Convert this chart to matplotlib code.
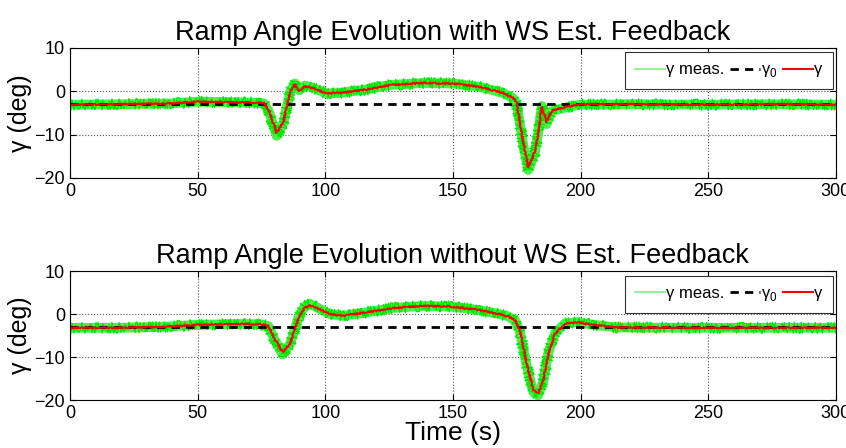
import numpy as np
import matplotlib.pyplot as plt
from matplotlib.lines import Line2D

plt.rcParams['font.family'] = ['Liberation Sans', 'DejaVu Sans']
plt.rcParams['mathtext.fontset'] = 'custom'
plt.rcParams['mathtext.rm'] = 'Liberation Sans'

# with WS estimate feedback (top)
t_top = [0, 20, 40, 50, 60, 70, 76, 78, 81, 83.6, 86.2, 88.1, 89.8, 92, 94.7,
         100.5, 105.7, 116, 125, 138, 150, 160.6, 169.7, 173.6, 175, 177.6,
         179.5, 182.1, 183.4, 184.8, 186.7, 188.7, 194.5, 200, 220, 250, 280, 300]
gam_top = [-3.1, -3.0, -2.8, -2.4, -2.5, -2.6, -2.7, -4.5, -9.6, -7.1, -0.2, 1.6,
           0.1, 1.15, 0.85, -0.5, -0.4, 0.4, 1.4, 1.9, 1.8, 1.0, -0.4, -1.5, -2.8,
           -12.0, -17.6, -14.0, -9.8, -3.6, -7.1, -4.5, -3.6, -3.0, -3.0, -3.1, -3.0, -3.1]
meas_top = [-3.1, -3.0, -2.8, -2.4, -2.5, -2.6, -2.8, -4.8, -10.3, -7.4, -0.1, 1.8,
            0.2, 1.3, 0.9, -0.5, -0.4, 0.4, 1.4, 1.9, 1.8, 1.0, -0.4, -1.6, -3.0,
            -12.5, -18.2, -14.3, -9.6, -3.4, -7.6, -4.6, -3.7, -3.1, -3.0, -3.1, -3.0, -3.1]

# without WS estimate feedback (bottom)
t_bot = [0, 20, 35, 50, 66.6, 75, 77.7, 80, 83.3, 86.2, 89.6, 92, 94, 97.9, 101.8,
         107, 116.2, 126.6, 138.4, 150, 160.6, 171.1, 174.3, 176.3, 178.9, 181.5,
         183.4, 185.4, 187.4, 190, 193.9, 198.5, 205, 214, 240, 270, 300]
gam_bot = [-3.2, -3.2, -3.0, -2.5, -2.3, -2.4, -2.7, -5.5, -8.9, -6.9, -0.8, 1.5,
           2.1, 1.15, 0.0, -0.4, 0.4, 1.4, 1.9, 1.7, 0.9, -0.4, -1.4, -3.9, -11.5,
           -17.7, -18.5, -15.4, -9.2, -4.6, -2.3, -1.9, -2.5, -3.1, -3.2, -3.2, -3.2]
meas_bot = [-3.2, -3.2, -3.0, -2.5, -2.3, -2.4, -2.8, -5.8, -9.4, -7.0, -0.6, 1.8,
            2.4, 1.2, 0.0, -0.4, 0.4, 1.4, 1.9, 1.7, 0.9, -0.4, -1.5, -4.2, -12.0,
            -18.2, -18.9, -15.6, -9.0, -4.4, -2.2, -1.9, -2.5, -3.1, -3.2, -3.2, -3.2]

gamma0 = -3.0
xticks = [0, 50, 100, 150, 200, 250, 300]
yticks = [-20, -10, 0, 10]
titles = ['Ramp Angle Evolution with WS Est. Feedback',
          'Ramp Angle Evolution without WS Est. Feedback']

fig = plt.figure(figsize=(8.46, 4.48), dpi=100)
ax1 = fig.add_axes([0.0827, 0.603, 0.9053, 0.290])
ax2 = fig.add_axes([0.0827, 0.107, 0.9053, 0.288])

panels = [(ax1, t_top, meas_top, gam_top), (ax2, t_bot, meas_bot, gam_bot)]
for i, (ax, t, m, g) in enumerate(panels):
    # noisy measurement look: wide band plus a jittered bright trace
    ax.plot(t, m, color='#4cf04c', lw=7, solid_capstyle='butt')
    lm, = ax.plot(t, m, color='#00e800', lw=0.9)
    lm.set_sketch_params(scale=5.5, length=0.3, randomness=1.5)
    ax.plot([0, 300], [gamma0, gamma0], 'k--', lw=2, dashes=(3, 2.2))
    lr, = ax.plot(t, g, color='red', lw=1.4)
    lr.set_sketch_params(scale=0.7, length=2, randomness=2)
    ax.set_xlim(0, 300)
    ax.set_ylim(-20, 10)
    ax.set_xticks(xticks)
    ax.set_yticks(yticks)
    ax.grid(True, color='#555555', ls=':', lw=0.8)
    ax.tick_params(direction='in', labelsize=13, length=4, top=True, right=True)
    ax.set_title(titles[i], fontsize=19.5, pad=6)
    ax.set_ylabel('γ (deg)', fontsize=18, labelpad=2)
    handles = [Line2D([], [], color='#9af09a', lw=1.5),
               Line2D([], [], color='k', ls='--', lw=2, dashes=(3, 2.2)),
               Line2D([], [], color='red', lw=1.5)]
    leg = ax.legend(handles, ['γ meas.', 'γ$_0$', 'γ'], loc='upper right', ncol=3,
                    fontsize=12, handlelength=1.8, handletextpad=0.1,
                    columnspacing=0.3, borderpad=0.6, borderaxespad=0,
                    fancybox=False, edgecolor='#333333', framealpha=1,
                    bbox_to_anchor=(0.996, 0.965))
    leg.get_frame().set_linewidth(0.8)

ax2.set_xlabel('Time (s)', fontsize=19, labelpad=-1)

fig.savefig('out.png', dpi=100)
